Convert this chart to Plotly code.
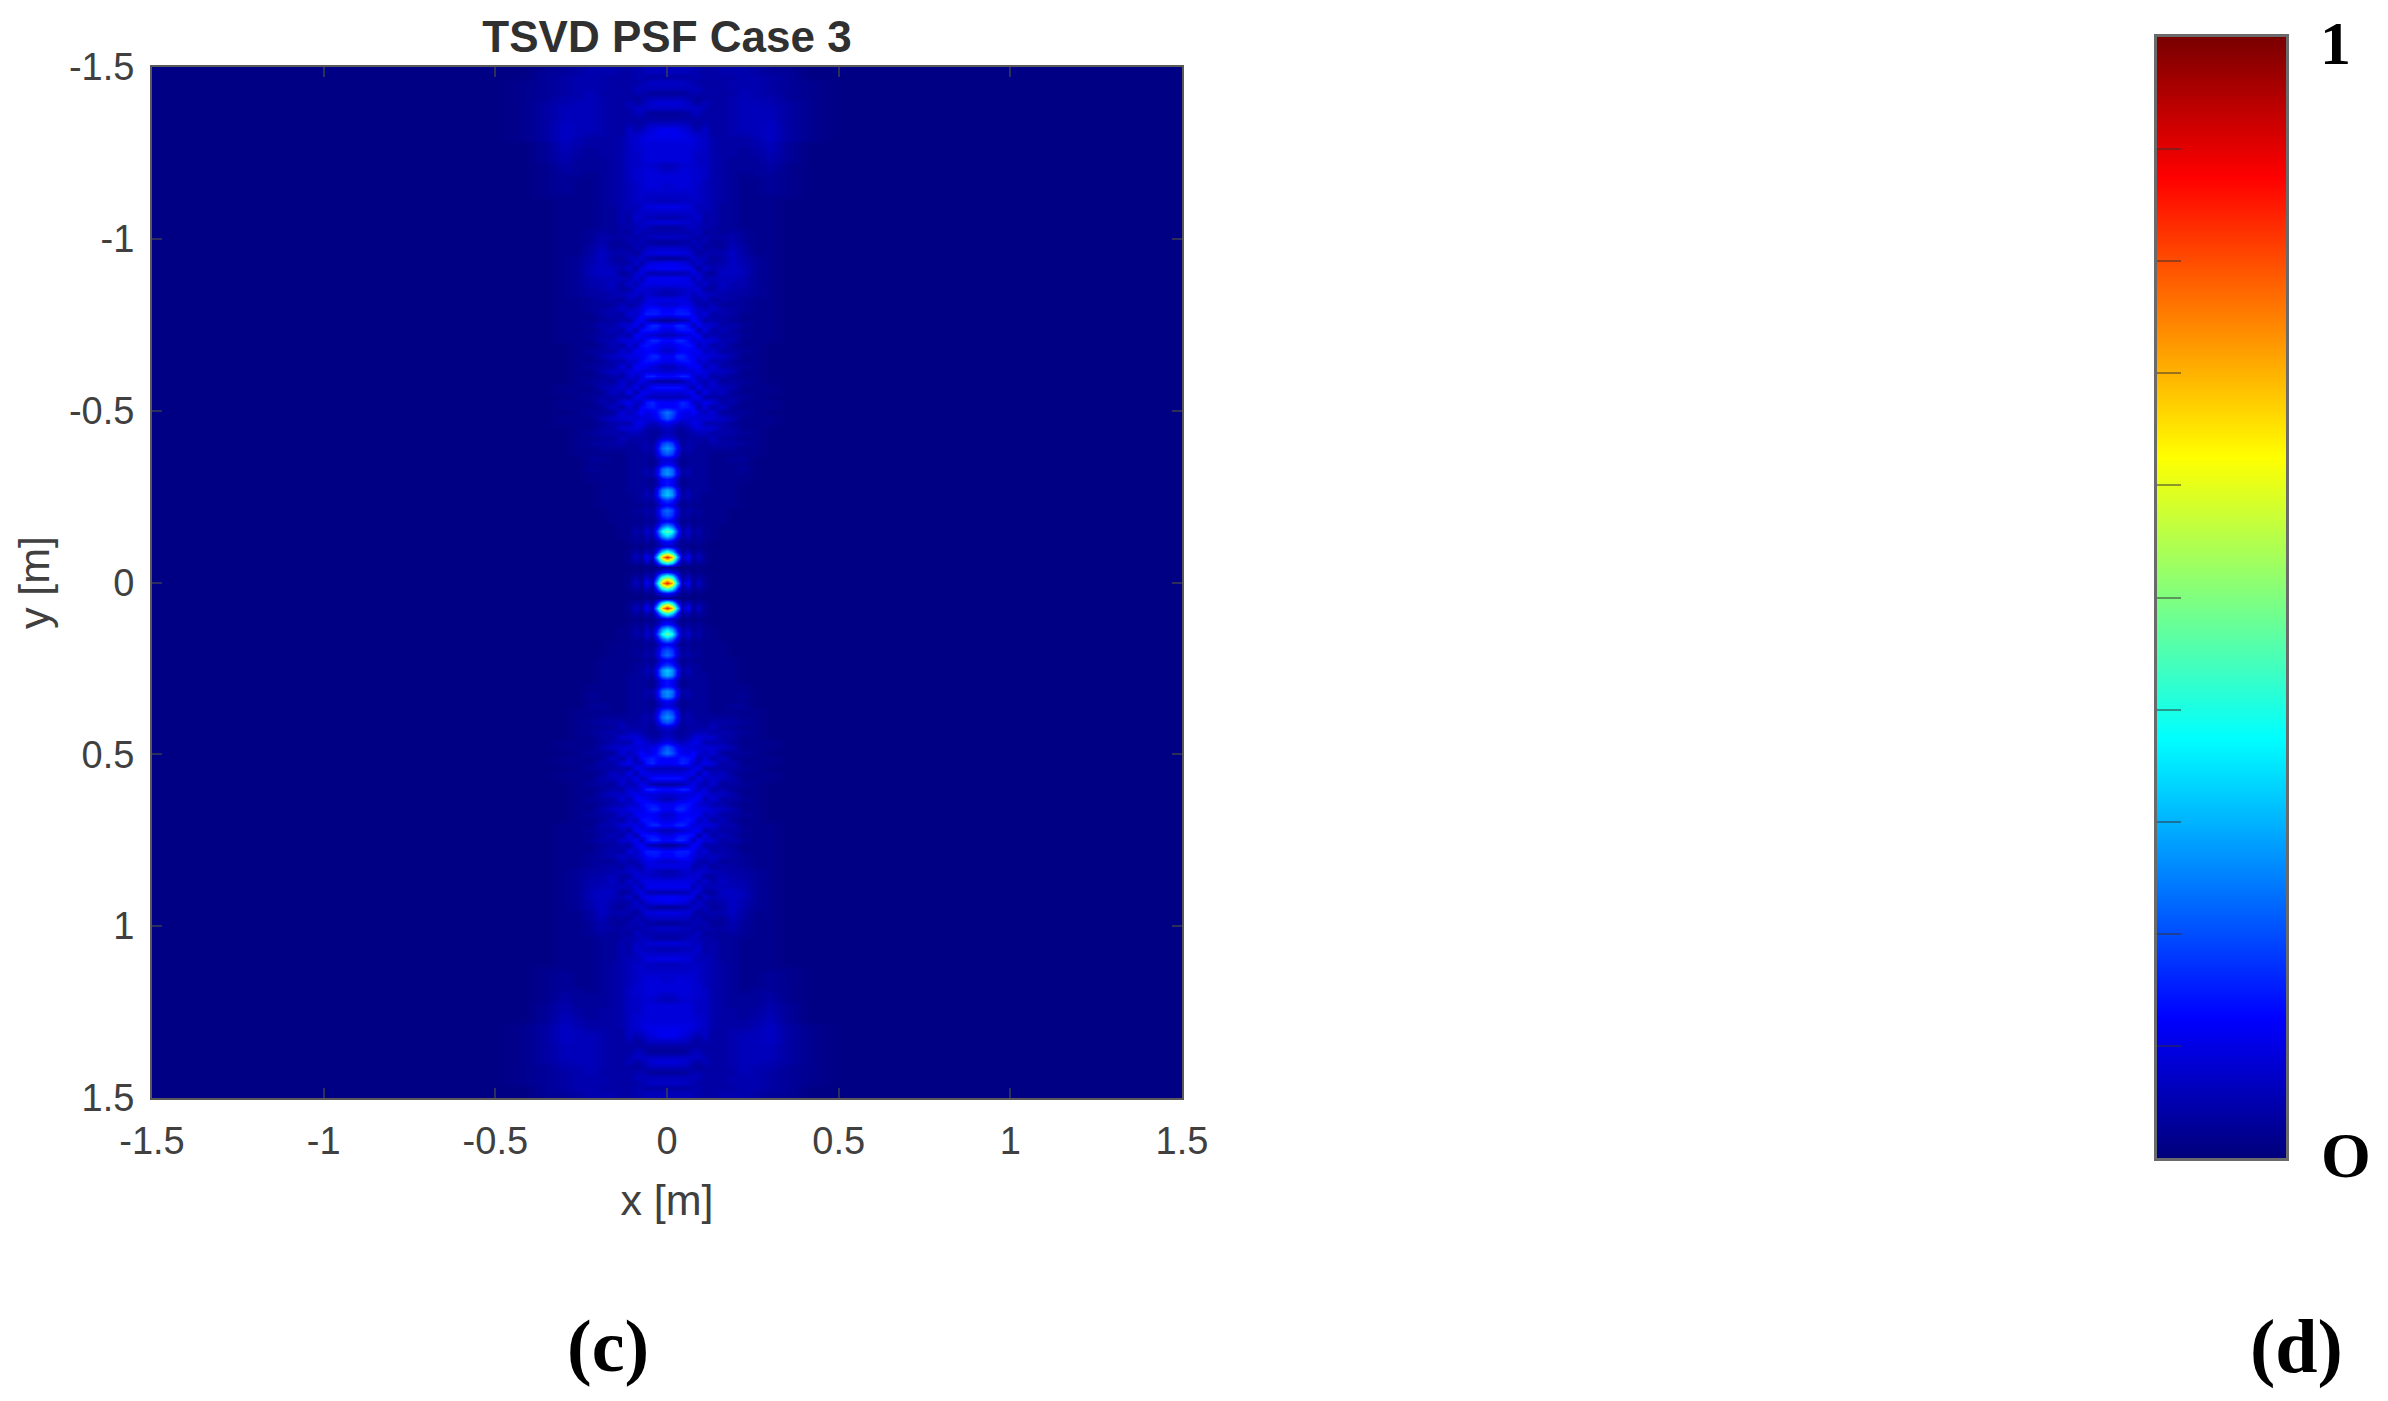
import numpy as np
import plotly.graph_objects as go

TITLE = "TSVD PSF Case 3"
X_TICKS = [-1.5, -1, -0.5, 0, 0.5, 1, 1.5]
TICK_TEXT = ["-1.5", "-1", "-0.5", "0", "0.5", "1", "1.5"]
BAR_TICKS = [0.1, 0.2, 0.3, 0.4, 0.5, 0.6, 0.7, 0.8, 0.9]
BAR_LEVELS = [0, 0.125, 0.375, 0.625, 0.875, 1]
COLORS = ["rgb(0,0,122)", "rgb(0,0,255)", "rgb(0,255,255)", "rgb(255,255,0)", "rgb(255,0,0)", "rgb(122,0,0)"]

ROW_STEP = 0.015
COL_X = [0, .015, .03, .045, .06, .075, .09, .11, .13, .16, .19, .22, .26, .30, .35, .42]
c000 = [85,50,14,2,50,85,45,8,14,34, 48,28,12,20,23,12,18,32,30,14, 14,27,26,12,9,21,27,21,9,6,
        7,11,21,24,13,12,6,9,14,4, 13,8,6,11,12,8,10,13,6,10, 13,3,13,12,8,10,5,6,10,11,
        5,12,11,3,10,7,3,7,5,4, 9,5,8,10,6,7,8,8,9,9, 7,6,9,9,9,9,10,11,11,7, 4,3,7,9,6,3,6,7,4,6,6]
c015 = [70,40,11,2,38,70,34,7,11,27, 38,22,10,17,19,10,15,27,25,12, 12,23,22,10,8,18,23,18,8,5,
        6,9,17,20,12,12,6,9,14,4, 13,8,6,11,12,8,10,13,6,10, 13,3,13,12,8,10,5,6,10,11,
        5,12,11,3,10,7,3,7,5,4, 9,5,8,10,6,7,8,8,9,9, 7,6,9,9,9,9,10,11,11,7, 4,3,7,9,6,3,6,7,4,6,6]
c030 = [32,18,6,1,16,32,15,4,5,13, 18,10,5,8,9,5,8,13,12,6, 6,11,10,5,5,9,12,9,5,3,
        4,7,12,14,13,13,6,9,14,4, 14,9,8,13,16,11,12,16,7,13, 16,4,15,14,9,10,6,7,10,11,
        5,12,10,3,10,7,3,7,5,4, 9,5,8,10,6,7,8,9,9,9, 8,7,9,9,9,9,10,11,10,7, 4,3,7,9,6,3,6,7,4,6,6]
c045 = [6,3,2,1,3,6,3,2,2,4, 5,3,2,3,3,2,3,4,3,2, 2,4,3,2,2,3,4,3,3,3,
        4,6,10,11,15,16,6,9,13,5, 16,9,9,14,16,12,13,16,8,14, 16,5,15,14,10,10,7,7,10,11,
        5,11,10,4,9,7,4,6,5,5, 8,6,8,9,7,7,8,9,9,9, 9,8,9,9,9,9,10,10,9,7, 4,3,7,8,6,3,6,7,4,6,6]
c060 = [12,7,3,1,7,12,6,2,4,6, 8,5,3,4,5,3,4,6,5,3, 3,5,5,3,3,4,5,5,4,4,
        5,8,9,10,14,14,7,11,8,8, 15,9,11,14,13,12,14,13,9,14, 13,7,15,13,10,9,8,8,10,10,
        6,11,8,5,9,6,4,6,5,6, 8,6,8,9,7,7,8,9,9,9, 9,8,9,9,9,9,10,9,8,6, 4,4,7,7,5,4,6,6,4,6,6]
c075 = [2,2,1,1,2,3,2,1,2,2, 3,2,2,2,3,2,3,3,3,3, 3,3,3,3,3,3,4,4,4,5,
        8,10,9,13,12,7,10,11,5,11, 9,9,12,12,11,11,13,8,11,13, 5,13,11,9,8,5,6,8,9,5,
        10,9,4,8,6,4,6,5,5,7, 6,7,8,7,7,8,8,8,8,8, 8,8,8,8,8,9,9,8,6,4, 4,6,7,5,4,5,6,5,5,5,5]
c090 = [7,4,2,1,4,7,4,2,3,4, 5,3,2,3,3,2,3,3,3,3, 3,3,3,3,3,3,3,4,
        4,6,9,10,8,9,5,7,11,4, 11,7,7,11,12,8,10,12,6,10, 12,4,12,10,7,8,5,5,8,9,
        5,9,8,3,8,6,3,6,5,4, 7,5,7,8,6,6,7,7,7,7, 8,8,8,7,7,7,8,8,8,7,5,4,4,6,7,4,3,5,6,4,5,5,5]
c110 = [2,2,1,1,2,2,2,1,2,2, 2,2,2,2,2,2,2,2,3,3, 3,3,3,3,3,3,3,
        3,4,6,8,5,9,6,9,11,4, 11,6,5,9,9,5,8,10,6,9, 9,4,10,8,4,9,6,4,7,7,
        4,8,5,4,8,4,6,5,3,5, 5,3,5,4,4, 5,6,6,6,6,6,6,
        7,7,7,7,7,7,7,7,7,7, 5,4,4,5,6,4,4,4,4,4,4,4]
c130 = [1,1,1,1,1,1,1,1,1,2, 2,2,2,2,2,2,2,2,2,2, 2,2,2,2,2,
        2,3,5,6,4,8,5,8,9,4, 9,5,5,8,8,4,7,9,5,8, 8,4,9,6,4,8,5,4,7,6,
        3,6,4,4,6,3,5,4,3,5, 4,3,4,4,
        4,5,5,5,5,5,5,5,5,5, 5,5,5,5,5,5,5,5,4,4, 4,4,4,4,4,4,4,4,4,4,4,4]
c160 = [1,1,1,1,1,1,1,1,1,1, 1,1,2,2,2,2,2,2,2,2, 2,2,2,
        2,2,2,3,4,3,5,4,5,7, 3,7,4,4,7,6,3,5,7,4, 5,7,4,6,5,4,6,4,4,5,
        5,3,5,5,6,7,6,7,6,5, 4,5,3,3,4,3,
        3,3,3,3,3,4,4,4,4,4, 4,4,4,4,4,4,4,4,4,4, 4,4,4,4,4,4,4,4,4,4,5,5]
c190 = [1,1,1,1,1,1,1,1,1,1, 1,1,1,1,1,2,2,2,2,2, 2,2,
        2,2,3,2,3,4,3,4,4,3, 5,3,3,5,4,3,5,4,3,5, 4,3,5,4,3,5,4,4,5,
        3,4,4,3,4,4,5,5,6,7, 7,7,7,7,6,5,5,4,3,3,
        3,3,3,3,3,3,3,3,3,3, 3,3,4,4,4,4,5,5,5,5, 5,5,5,5,4,5,5,4,5,5]
c220 = [1,1,1,1,1,1,1,1,1,1, 1,1,1,1,1,1,1,1,1,1,
        2,2,3,2,3,2,2,3,2,3, 2,2,2,3,2,2,3,2,2,3, 2,2,3,2,2,3,2,2,3,2, 3,2,2,3,3,3,4,4,5,5,
        6,6,5,5,4,4,3,3,3,2, 2,2,2,2,2,2,2,2,2,2, 3,3,3,3,3,4,4,5,6,6, 6,6,6,6,6,6,5,5,5,5,5]
c260 = [1,1,1,1,1,1,1,1,1,1, 1,1,1,1,1,1,1,1,1,1, 1,1,1,1,1,2,2,2,2,2,
        2,2,2,2,2,2,2,2,2,2, 2,2,2,2,2,2,2,2,2,2, 2,2,2,2,2,2,3,3,3,3,
        3,3,3,3,2,2,2,2,2,2, 2,2,2,2,2,2,2,2,2,3, 3,3,3,4,4,5,5,6,6,6, 6,6,6,6,5,5,5,5,5,4,4]
c300 = [1,1,1,1,1,1,1,1,1,1, 1,1,1,1,1,1,1,1,1,1, 1,1,1,1,1,1,1,1,1,1,
        1,2,2,1,2,2,1,2,2,1, 1,1,1,1,1,1,1,2,2,2, 2,2,2,2,2,2,2,2,2,2,
        2,2,2,2,2,2,2,2,2,2, 2,2,2,2,2,2,3,3,3,3, 4,4,5,5,6,6,7,7,7,7, 6,6,6,5,5,4,4,4,4,3,3]
c350 = [1,1,1,1,1,1,1,1,1,1, 1,1,1,1,1,1,1,1,1,1, 1,1,1,1,1,1,1,1,1,1,
        1,1,1,1,1,1,1,1,1,1, 1,1,1,1,1,1,1,1,1,1, 1,1,1,1,1,1,1,1,1,1,
        1,1,1,1,1,1,1,1,1,1, 1,1,1,1,1,2,2,2,2,2, 2,2,3,3,3,3,4,4,4,4, 4,4,4,4,3,3,3,3,3,3,2]
c420 = [1,1,1,1,1,1,1,1,1,1, 1,1,1,1,1,1,1,1,1,1, 1,1,1,1,1,1,1,1,1,1,
        1,1,1,1,1,1,1,1,1,1, 1,1,1,1,1,1,1,1,1,1, 1,1,1,1,1,1,1,1,1,1,
        1,1,1,1,1,1,1,1,1,1, 1,1,1,1,1,1,1,1,1,1, 1,1,1,1,1,1,2,2,2,2, 2,2,2,2,2,2,2,2,1,1,1]
COLUMNS = [c000, c015, c030, c045, c060, c075, c090, c110, c130, c160, c190, c220, c260, c300, c350, c420]
BACKGROUND = 1
N_ROWS = 101

def fit(col):
    return (list(col) + [col[-1]] * N_ROWS)[:N_ROWS]

quad = np.array([fit(c) for c in COLUMNS], dtype=float).T / 100.0
# The picture is mirror-symmetric about both axes: unfold the quadrant.
ys = np.arange(quad.shape[0]) * ROW_STEP
y_all = np.concatenate([-ys[::-1], ys[1:]])
cols_pos = list(COL_X) + [0.5, 1.5]
quad = np.hstack([quad, np.full((quad.shape[0], 2), BACKGROUND / 100.0)])
x_all = np.concatenate([-np.array(cols_pos[::-1]), np.array(cols_pos[1:])])
half = np.hstack([quad[:, :0:-1], quad])
z_all = np.vstack([half[:0:-1], half])

W, H = 2388, 1401
scale = [[v, c] for v, c in zip(BAR_LEVELS, COLORS)]
INK = "#404040"
TICK = "rgba(70,70,70,0.65)"
FRAME = "#5a5a5a"

fig = go.Figure()
fig.add_trace(go.Heatmap(x=x_all, y=y_all, z=z_all, zmin=0, zmax=1, colorscale=scale,
                         zsmooth="best", showscale=False, xaxis="x", yaxis="y"))
fig.add_trace(go.Heatmap(x=[0, 1], y=BAR_LEVELS, z=[[v, v] for v in BAR_LEVELS], zmin=0, zmax=1,
                         colorscale=scale, zsmooth="best", showscale=False, xaxis="x2", yaxis="y2"))

axis_font = dict(family="Liberation Sans", size=38, color=INK)
title_font = dict(family="Liberation Sans", size=43, color=INK)
common = dict(showgrid=False, zeroline=False, showline=True, linecolor=FRAME, linewidth=2, automargin=False,
              mirror="ticks", ticks="inside", ticklen=10, tickwidth=1.5, tickcolor=TICK,
              tickfont=axis_font, tickmode="array", tickvals=X_TICKS, ticktext=TICK_TEXT,
              layer="above traces")
xa = dict(common); xa.update(range=[-1.5, 1.5], domain=[152 / W, 1182 / W], anchor="y", ticklabelstandoff=8,
                             title=dict(text="x [m]", font=title_font, standoff=24))
ya = dict(common); ya.update(range=[1.5, -1.5], domain=[1 - 1098 / H, 1 - 67 / H], anchor="x", ticklabelstandoff=8,
                             title=dict(text="y [m]", font=title_font, standoff=6))
x2 = dict(range=[0, 1], domain=[2157 / W, 2286 / W], anchor="y2", showticklabels=False, ticks="", automargin=False,
          showgrid=False, zeroline=False, showline=True, linecolor="#6a6a6a", linewidth=2.5, mirror=True, layer="above traces")
y2 = dict(range=[0, 1], domain=[1 - 1158 / H, 1 - 37 / H], anchor="x2", showticklabels=False, ticks="inside",
          ticklen=24, tickwidth=2, tickcolor="rgba(50,50,50,0.5)", tickmode="array", tickvals=BAR_TICKS, automargin=False,
          showgrid=False, zeroline=False, showline=True, linecolor="#6a6a6a", linewidth=2.5, mirror=True, layer="above traces")

def label(text, px, py, size):
    return dict(text=text, x=px / W, y=1 - py / H, xref="paper", yref="paper", showarrow=False,
                xanchor="center", yanchor="middle",
                font=dict(family="Liberation Serif", size=size, color="#000000"))

fig.update_layout(
    template="none",
    width=W, height=H, margin=dict(l=0, r=0, t=0, b=0, pad=0), autosize=False,
    paper_bgcolor="white", plot_bgcolor="white", showlegend=False,
    title=dict(text="<b>" + TITLE + "</b>", x=667 / W, xanchor="center", y=1 - 37 / H, yanchor="middle",
               font=dict(family="Liberation Sans", size=44, color="#303030")),
    xaxis=xa, yaxis=ya, xaxis2=x2, yaxis2=y2,
    annotations=[
        label("<b>1</b>", 2335, 43, 62),
        label("<b>O</b>", 2346, 1155, 64),
        label("<b>(c)</b>", 608, 1346, 74),
        label("<b>(d)</b>", 2296, 1346, 76),
    ],
)
fig.write_html("out.html", config=dict(displayModeBar=False),
               post_script="document.body.style.margin='0';")
